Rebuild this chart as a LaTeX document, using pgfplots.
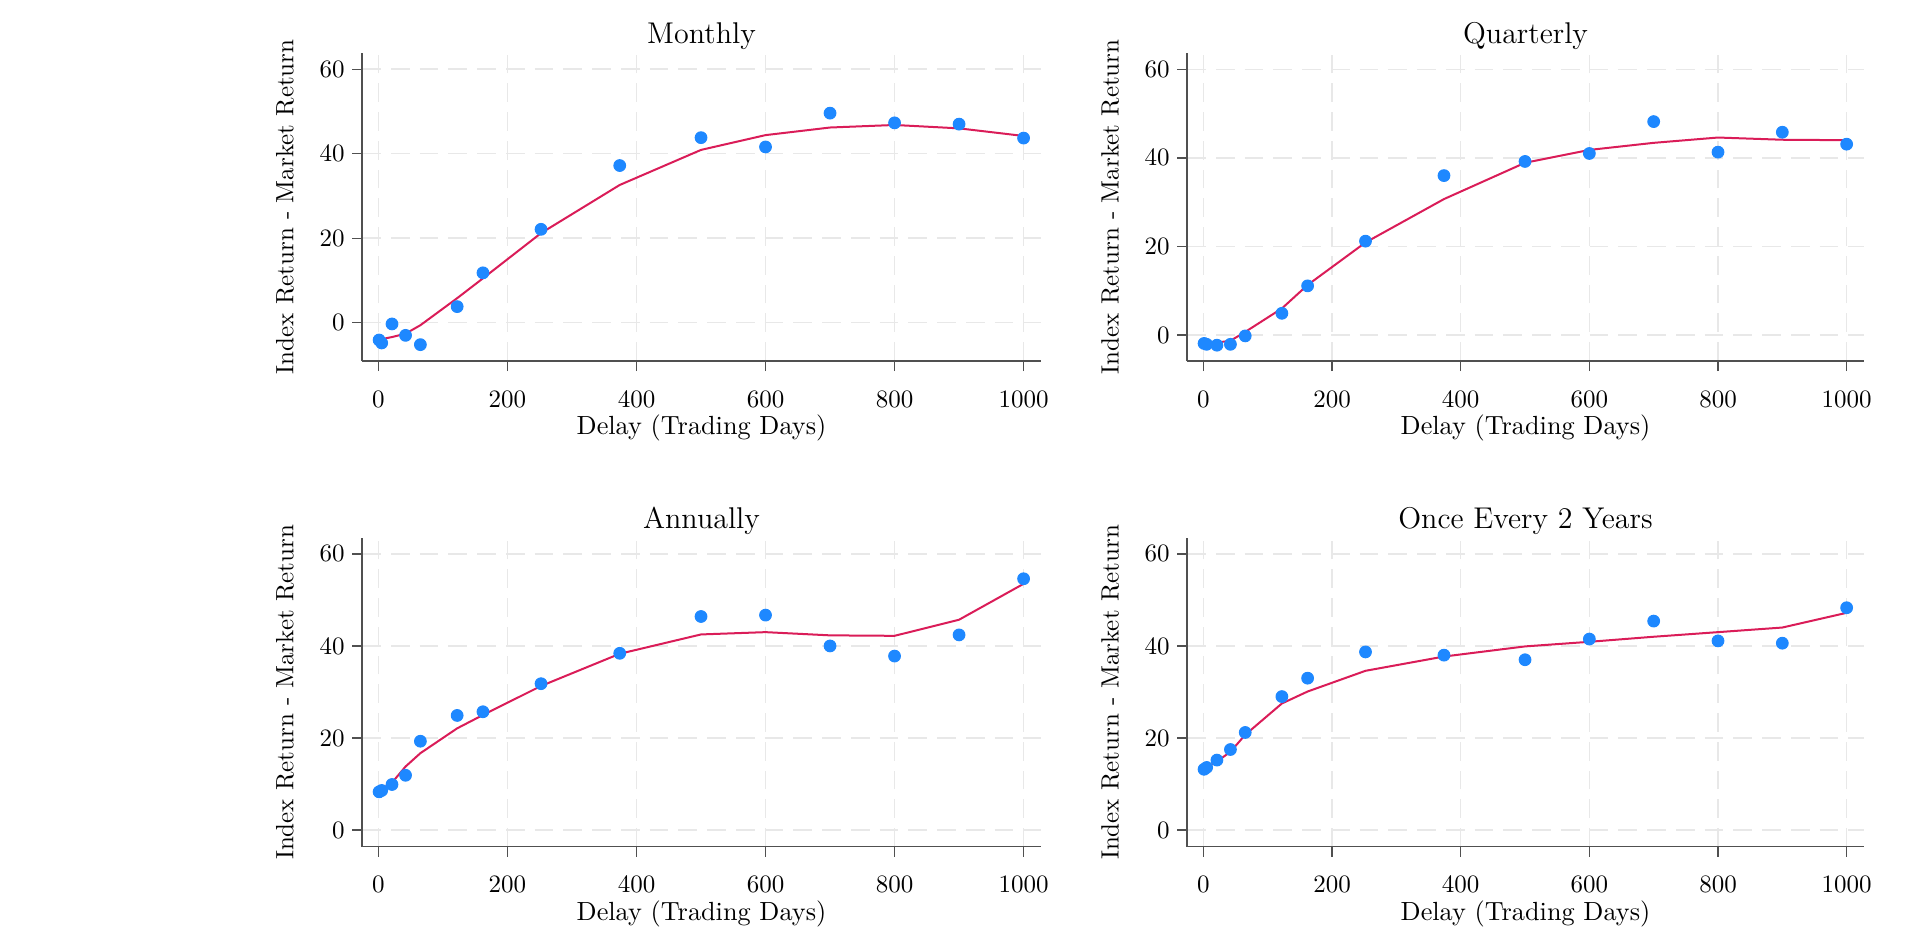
\documentclass[border=0pt]{standalone}
\usepackage{pgfplots}
\usepackage{pgfplotstable}
\pgfplotsset{compat=1.18}

\definecolor{dotblue}{RGB}{30,136,255}
\definecolor{fitred}{RGB}{218,28,88}
\definecolor{axisgray}{RGB}{80,80,80}
\definecolor{gridgray}{RGB}{232,232,232}

% delay (trading days), observed excess return, lowess fit
\pgfplotstableread{
x     y      f
1     -4.1   -4.1
5     -4.8   -3.9
21    -0.3   -3.4
42    -3.0   -2.6
65    -5.2   -0.6
122    3.8    5.8
162   11.8   10.5
252   22.1   21.2
374   37.2   32.6
500   43.8   40.9
600   41.6   44.4
700   49.6   46.2
800   47.3   46.8
900   47.0   46.0
1000  43.7   44.2
}\monthly

\pgfplotstableread{
x     y      f
1     -1.9   -2.0
5     -2.1   -1.9
21    -2.3   -1.7
42    -2.1   -1.3
65    -0.2    0.7
122    4.9    6.0
162   11.1   11.3
252   21.2   20.9
374   36.0   30.7
500   39.2   38.9
600   41.0   41.8
700   48.2   43.4
800   41.3   44.6
900   45.8   44.1
1000  43.1   44.0
}\quarterly

\pgfplotstableread{
x     y      f
1      8.3    8.3
5      8.6    8.9
21     9.9   10.3
42    11.9   13.8
65    19.3   16.7
122   24.9   22.1
162   25.7   25.0
252   31.8   31.3
374   38.4   38.3
500   46.4   42.5
600   46.7   43.0
700   40.0   42.3
800   37.8   42.2
900   42.4   45.7
1000  54.6   53.5
}\annually

\pgfplotstableread{
x     y      f
1     13.2   13.3
5     13.6   13.6
21    15.2   14.9
42    17.5   17.0
65    21.2   20.7
122   29.0   27.5
162   33.0   30.1
252   38.7   34.6
374   38.0   37.7
500   37.0   39.9
600   41.5   40.9
700   45.4   42.0
800   41.1   43.0
900   40.6   44.0
1000  48.3   47.2
}\biennial

\pgfplotsset{
  panel/.style={
    scale only axis,
    axis x line*=bottom,
    axis y line*=left,
    axis line style={axisgray, line width=0.55pt, -},
    xmin=-25.5, xmax=1027,
    xtick={0,200,400,600,800,1000},
    ytick={0,20,40,60},
    /pgf/number format/1000 sep={},
    tick align=outside,
    major tick length=4pt,
    tick style={axisgray, line width=0.55pt},
    grid=major,
    major grid style={gridgray, line width=0.6pt, dash pattern=on 7.5pt off 4pt},
    xticklabel style={anchor=north, inner sep=0pt, font=\fontsize{10.2}{12}\selectfont},
    yticklabel style={anchor=east, inner sep=0pt, font=\fontsize{10.2}{12}\selectfont},
    xticklabel shift=7.8pt,
    yticklabel shift=2.8pt,
    scaled ticks=false,
    every axis title shift=0pt,
    title style={at={(axis description cs:0.5,1)}, anchor=base, yshift=3.8pt,
                 font=\fontsize{12}{14}\selectfont},
    xlabel={Delay (Trading Days)},
    ylabel={Index Return - Market Return},
    every axis x label/.style={at={(axis description cs:0.5,0)}, anchor=base,
                 yshift=-29.4pt, font=\fontsize{10.5}{12}\selectfont},
    every axis y label/.style={at={(axis description cs:-0.1135,0.5)}, anchor=center,
                 rotate=90, font=\fontsize{10}{12}\selectfont},
  },
  dots/.style={only marks, mark=*, mark size=2.35pt,
               mark options={draw=dotblue, fill=dotblue}},
  fit/.style={no marks, fitred, line width=0.8pt},
}

\begin{document}
\begin{tikzpicture}
\path (0,0) rectangle (767.2pt,375.2pt);

\begin{axis}[panel, at={(144.8pt,230.8pt)}, anchor=south west,
  width=271.6pt, height=123.3pt, ymin=-9.07, ymax=63.9, title={Monthly}]
  \addplot[dots] table[x=x, y=y] {\monthly};
  \addplot[fit] table[x=x, y=f] {\monthly};
\end{axis}

\begin{axis}[panel, at={(474.8pt,230.8pt)}, anchor=south west,
  width=270.8pt, height=123.3pt, ymin=-5.87, ymax=63.75, title={Quarterly}]
  \addplot[dots] table[x=x, y=y] {\quarterly};
  \addplot[fit] table[x=x, y=f] {\quarterly};
\end{axis}

\begin{axis}[panel, at={(144.8pt,36.5pt)}, anchor=south west,
  width=271.6pt, height=123.4pt, ymin=-3.63, ymax=63.4, title={Annually}]
  \addplot[dots] table[x=x, y=y] {\annually};
  \addplot[fit] table[x=x, y=f] {\annually};
\end{axis}

\begin{axis}[panel, at={(474.8pt,36.5pt)}, anchor=south west,
  width=270.8pt, height=123.4pt, ymin=-3.63, ymax=63.4, title={Once Every 2 Years}]
  \addplot[dots] table[x=x, y=y] {\biennial};
  \addplot[fit] table[x=x, y=f] {\biennial};
\end{axis}
\end{tikzpicture}
\end{document}
